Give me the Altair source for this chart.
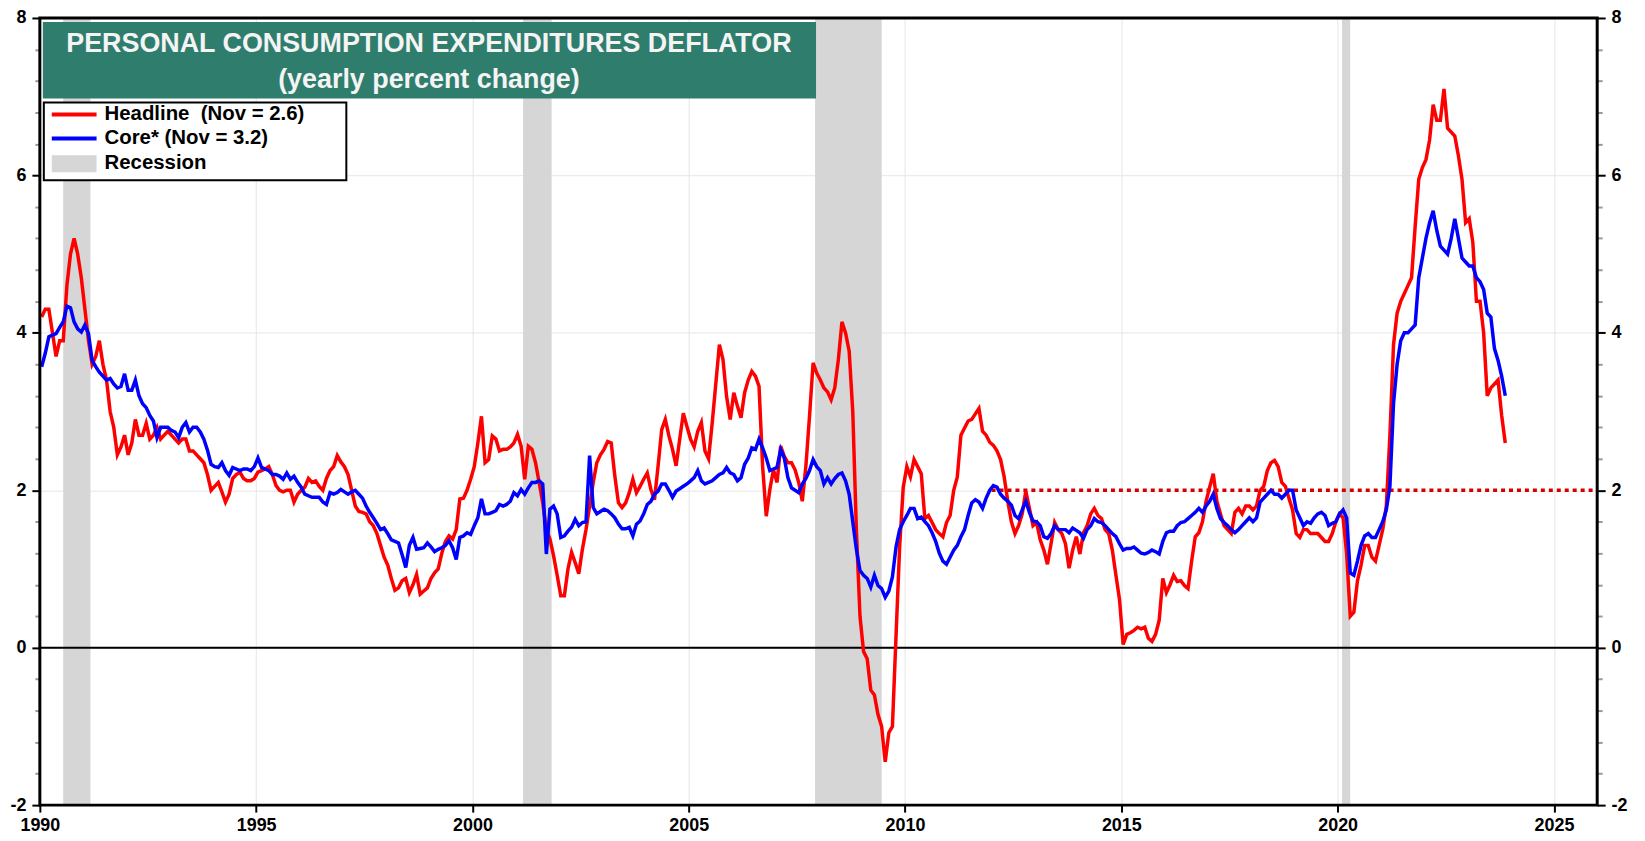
import altair as alt
import pandas as pd

# ---------------- data (yearly % change, monthly, Jan 1990 - Nov 2023) ----------------
headline_1990s = [
    [4.2, 4.3, 4.3, 4.0, 3.7, 3.9, 3.9, 4.6, 5.0, 5.2, 5.0, 4.7],
    [4.3, 3.9, 3.6, 3.7, 3.9, 3.6, 3.4, 3.0, 2.8, 2.45, 2.55, 2.7],
    [2.45, 2.6, 2.9, 2.7, 2.7, 2.85, 2.65, 2.7, 2.8, 2.65, 2.7, 2.75],
    [2.7, 2.65, 2.6, 2.65, 2.65, 2.5, 2.5, 2.45, 2.4, 2.35, 2.2, 2.0],
    [2.05, 2.1, 1.98, 1.85, 1.95, 2.15, 2.2, 2.23, 2.15, 2.12, 2.12, 2.15],
    [2.23, 2.25, 2.27, 2.3, 2.2, 2.06, 2.0, 1.98, 2.0, 2.0, 1.85, 1.95],
    [2.0, 2.04, 2.15, 2.1, 2.12, 2.05, 2.0, 2.15, 2.25, 2.3, 2.44, 2.36],
    [2.3, 2.2, 2.0, 1.8, 1.73, 1.72, 1.7, 1.6, 1.55, 1.45, 1.3, 1.15],
    [1.05, 0.88, 0.73, 0.76, 0.85, 0.88, 0.7, 0.8, 0.93, 0.68, 0.72, 0.76],
    [0.88, 0.95, 1.0, 1.2, 1.35, 1.42, 1.38, 1.5, 1.89, 1.9, 2.0, 2.14],
]
headline_2000s = [
    [2.3, 2.6, 2.94, 2.35, 2.39, 2.69, 2.65, 2.5, 2.52, 2.52, 2.55, 2.6],
    [2.71, 2.56, 2.14, 2.56, 2.52, 2.35, 2.1, 1.84, 1.5, 1.38, 1.17, 0.92],
    [0.66, 0.66, 1.0, 1.21, 1.08, 0.94, 1.25, 1.5, 1.8, 2.1, 2.35, 2.45],
    [2.52, 2.62, 2.6, 2.18, 1.84, 1.78, 1.84, 1.97, 2.14, 1.97, 2.05, 2.14],
    [2.22, 2.01, 1.88, 2.31, 2.77, 2.9, 2.69, 2.52, 2.31, 2.65, 2.98, 2.81],
    [2.65, 2.55, 2.75, 2.86, 2.5, 2.4, 2.85, 3.35, 3.85, 3.66, 3.19, 2.9],
    [3.24, 3.07, 2.92, 3.24, 3.4, 3.51, 3.45, 3.32, 2.3, 1.67, 2.01, 2.26],
    [2.1, 2.56, 2.43, 2.35, 2.35, 2.26, 2.1, 1.86, 2.31, 2.94, 3.62, 3.49],
    [3.4, 3.3, 3.25, 3.15, 3.3, 3.66, 4.14, 4.0, 3.77, 3.0, 1.5, 0.4],
    [-0.05, -0.14, -0.54, -0.6, -0.85, -1.0, -1.45, -1.08, -1.0, 0.15, 1.28, 2.04],
]
headline_2010s = [
    [2.3, 2.17, 2.39, 2.3, 2.21, 1.64, 1.68, 1.59, 1.5, 1.45, 1.41, 1.59],
    [1.68, 2.0, 2.17, 2.7, 2.79, 2.88, 2.9, 2.97, 3.04, 2.75, 2.7, 2.61],
    [2.57, 2.5, 2.39, 2.17, 1.86, 1.6, 1.45, 1.55, 1.7, 1.99, 1.77, 1.55],
    [1.59, 1.37, 1.24, 1.06, 1.32, 1.59, 1.5, 1.45, 1.32, 1.01, 1.24, 1.41],
    [1.19, 1.46, 1.55, 1.7, 1.77, 1.68, 1.64, 1.5, 1.45, 1.24, 0.92, 0.61],
    [0.04, 0.17, 0.19, 0.22, 0.26, 0.24, 0.26, 0.12, 0.08, 0.17, 0.35, 0.88],
    [0.7, 0.8, 0.92, 0.84, 0.85, 0.79, 0.75, 1.1, 1.41, 1.46, 1.6, 1.86],
    [2.04, 2.21, 1.86, 1.7, 1.55, 1.5, 1.45, 1.72, 1.77, 1.7, 1.8, 1.8],
    [1.75, 1.8, 2.0, 2.05, 2.25, 2.35, 2.38, 2.3, 2.1, 2.05, 1.9, 1.75],
    [1.45, 1.4, 1.5, 1.5, 1.45, 1.45, 1.45, 1.4, 1.35, 1.35, 1.45, 1.6],
]
headline_2020s = [
    [1.7, 1.65, 1.2, 0.4, 0.45, 0.85, 1.05, 1.3, 1.3, 1.15, 1.1, 1.3],
    [1.5, 1.8, 2.7, 3.85, 4.25, 4.4, 4.5, 4.6, 4.7, 5.35, 5.95, 6.1],
    [6.2, 6.45, 6.9, 6.7, 6.7, 7.1, 6.6, 6.55, 6.5, 6.25, 5.95, 5.4],
    [5.45, 5.15, 4.4, 4.4, 4.0, 3.2, 3.3, 3.35, 3.4, 2.95, 2.6],
]

core_1990s = [
    [3.57, 3.74, 3.95, 3.97, 3.99, 4.07, 4.14, 4.34, 4.32, 4.14, 4.05, 4.01],
    [4.1, 3.99, 3.65, 3.57, 3.5, 3.45, 3.4, 3.42, 3.35, 3.3, 3.32, 3.48],
    [3.27, 3.27, 3.4, 3.2, 3.1, 3.05, 2.95, 2.88, 2.67, 2.8, 2.8, 2.8],
    [2.76, 2.74, 2.67, 2.8, 2.86, 2.74, 2.8, 2.8, 2.74, 2.65, 2.51, 2.33],
    [2.3, 2.29, 2.35, 2.25, 2.19, 2.29, 2.27, 2.25, 2.27, 2.27, 2.25, 2.3],
    [2.41, 2.29, 2.27, 2.25, 2.2, 2.2, 2.18, 2.14, 2.22, 2.14, 2.18, 2.1],
    [2.04, 1.95, 1.93, 1.91, 1.91, 1.91, 1.85, 1.82, 1.97, 1.95, 1.97, 2.01],
    [1.98, 1.95, 1.98, 2.0, 1.95, 1.9, 1.8, 1.72, 1.65, 1.58, 1.5, 1.52],
    [1.45, 1.37, 1.35, 1.33, 1.18, 1.02, 1.3, 1.4, 1.25, 1.26, 1.27, 1.33],
    [1.28, 1.22, 1.25, 1.27, 1.3, 1.36, 1.27, 1.12, 1.4, 1.42, 1.46, 1.44],
]
core_2000s = [
    [1.55, 1.65, 1.89, 1.7, 1.7, 1.72, 1.74, 1.82, 1.8, 1.82, 1.86, 1.97],
    [1.93, 2.01, 1.95, 2.03, 2.1, 2.1, 2.12, 2.08, 1.19, 1.76, 1.8, 1.7],
    [1.4, 1.42, 1.48, 1.53, 1.63, 1.55, 1.59, 1.6, 2.44, 1.78, 1.7, 1.73],
    [1.76, 1.74, 1.7, 1.65, 1.57, 1.51, 1.51, 1.53, 1.42, 1.57, 1.61, 1.7],
    [1.82, 1.86, 1.95, 1.99, 2.08, 2.08, 2.0, 1.91, 1.99, 2.02, 2.05, 2.08],
    [2.12, 2.16, 2.25, 2.12, 2.08, 2.1, 2.12, 2.16, 2.2, 2.22, 2.29, 2.22],
    [2.2, 2.12, 2.16, 2.33, 2.41, 2.54, 2.52, 2.65, 2.54, 2.41, 2.25, 2.27],
    [2.29, 2.52, 2.41, 2.16, 2.03, 2.0, 1.97, 2.08, 2.15, 2.25, 2.39, 2.3],
    [2.25, 2.08, 2.16, 2.08, 2.15, 2.2, 2.22, 2.12, 1.95, 1.6, 1.25, 0.98],
    [0.92, 0.88, 0.77, 0.92, 0.79, 0.75, 0.64, 0.72, 0.9, 1.28, 1.5, 1.6],
]
core_2010s = [
    [1.68, 1.77, 1.77, 1.64, 1.66, 1.6, 1.55, 1.46, 1.35, 1.2, 1.1, 1.06],
    [1.15, 1.24, 1.3, 1.41, 1.5, 1.68, 1.84, 1.88, 1.85, 1.77, 1.9, 2.0],
    [2.06, 2.04, 1.95, 1.9, 1.86, 1.81, 1.68, 1.64, 1.75, 1.86, 1.72, 1.61],
    [1.6, 1.55, 1.41, 1.39, 1.45, 1.55, 1.5, 1.5, 1.5, 1.46, 1.52, 1.49],
    [1.46, 1.39, 1.5, 1.55, 1.64, 1.6, 1.59, 1.55, 1.5, 1.45, 1.41, 1.32],
    [1.24, 1.26, 1.26, 1.28, 1.24, 1.2, 1.19, 1.21, 1.24, 1.22, 1.19, 1.35],
    [1.46, 1.48, 1.48, 1.55, 1.59, 1.6, 1.64, 1.68, 1.72, 1.77, 1.72, 1.8],
    [1.86, 1.95, 1.77, 1.64, 1.59, 1.55, 1.5, 1.46, 1.5, 1.55, 1.6, 1.65],
    [1.6, 1.65, 1.85, 1.9, 1.95, 2.0, 1.95, 1.95, 1.9, 1.95, 2.0, 2.0],
    [1.75, 1.65, 1.55, 1.6, 1.58, 1.65, 1.7, 1.72, 1.68, 1.55, 1.58, 1.6],
]
core_2020s = [
    [1.7, 1.75, 1.65, 0.95, 0.92, 1.1, 1.3, 1.42, 1.45, 1.4, 1.4, 1.5],
    [1.6, 1.75, 2.05, 3.1, 3.6, 3.9, 4.0, 4.0, 4.05, 4.1, 4.7, 4.95],
    [5.2, 5.4, 5.55, 5.3, 5.1, 5.05, 5.0, 5.2, 5.45, 5.2, 4.95, 4.9],
    [4.85, 4.85, 4.7, 4.65, 4.55, 4.25, 4.2, 3.8, 3.65, 3.45, 3.2],
]

recession_start = [1990.54, 2001.17, 2007.92, 2020.1]
recession_end = [1991.17, 2001.83, 2009.46, 2020.29]
target_value = 2.0
target_start, target_end = 2012.0, 2026.0
x_ticks = [1990, 1995, 2000, 2005, 2010, 2015, 2020, 2025]
y_ticks = [round(-2 + 0.4 * i, 1) for i in range(26)]

title_line1 = "PERSONAL CONSUMPTION EXPENDITURES DEFLATOR"
title_line2 = "(yearly percent change)"
legend_labels = ["Headline\u00a0 (Nov = 2.6)", "Core* (Nov = 3.2)", "Recession"]

# ---------------- build tables ----------------
def to_frame(blocks, start_year, name):
    rows = []
    for yi, vals in enumerate(blocks):
        for mi, v in enumerate(vals):
            rows.append({"t": start_year + yi + (mi + 0.5) / 12.0, "value": v, "series": name})
    return rows

head_rows = (to_frame(headline_1990s, 1990, "Headline") + to_frame(headline_2000s, 2000, "Headline")
             + to_frame(headline_2010s, 2010, "Headline") + to_frame(headline_2020s, 2020, "Headline"))
core_rows = (to_frame(core_1990s, 1990, "Core") + to_frame(core_2000s, 2000, "Core")
             + to_frame(core_2010s, 2010, "Core") + to_frame(core_2020s, 2020, "Core"))
head_df = pd.DataFrame(head_rows)
core_df = pd.DataFrame(core_rows)
rec_df = pd.DataFrame({"start": recession_start, "end": recession_end})
target_df = pd.DataFrame({"x1": [target_start], "x2": [target_end], "y": [target_value]})
zero_df = pd.DataFrame({"y": [0.0]})
one = pd.DataFrame({"a": [0]})

W, H = 1565, 791
FONT = "Liberation Sans"

xs = alt.Scale(domain=[1990, 2026], nice=False, zero=False)
ys = alt.Scale(domain=[-2, 8], nice=False, zero=False)

MAJ = "abs(datum.value - 2*round(datum.value/2)) < 0.01"

def y_axis(orient, grid):
    return alt.Axis(
        orient=orient, values=y_ticks, title=None, domain=False,
        labelExpr=f"({MAJ}) ? toString(round(datum.value)) : ''",
        tickSize={"condition": {"test": MAJ, "value": 8}, "value": 5},
        tickColor={"condition": {"test": MAJ, "value": "#000000"}, "value": "#9a9a9a"},
        tickWidth=2,
        grid=grid, gridColor="#e6e6e6", gridWidth=1,
        gridOpacity={"condition": {"test": MAJ, "value": 1}, "value": 0},
        labelPadding=6, labelFont=FONT, labelFontWeight="bold", labelFontSize=18,
        labelColor="#000000",
    )

x_axis = alt.Axis(values=x_ticks, format="d", title=None, domain=False, tickSize=7,
                  tickWidth=2, tickColor="#000000", grid=True, gridColor="#e6e6e6",
                  labelPadding=5, labelFont=FONT, labelFontWeight="bold", labelFontSize=18,
                  labelColor="#000000", labelFlush=False)

rec = alt.Chart(rec_df).mark_rect(color="#d6d6d6").encode(
    x=alt.X("start:Q", scale=xs, axis=x_axis), x2="end:Q",
    y=alt.value(0), y2=alt.value(H))

zero = alt.Chart(zero_df).mark_rule(color="#000000", strokeWidth=2).encode(
    y=alt.Y("y:Q", scale=ys, axis=None))

target = alt.Chart(target_df).mark_rule(color="#d40000", strokeWidth=3.5, strokeDash=[4, 4]).encode(
    x=alt.X("x1:Q", scale=xs, axis=x_axis), x2="x2:Q",
    y=alt.Y("y:Q", scale=ys, axis=None))

red = alt.Chart(head_df).mark_line(color="#ff0000", strokeWidth=3.5).encode(
    x=alt.X("t:Q", scale=xs, axis=x_axis),
    y=alt.Y("value:Q", scale=ys, axis=y_axis("left", True)))

blue = alt.Chart(core_df).mark_line(color="#0000ff", strokeWidth=3.5).encode(
    x=alt.X("t:Q", scale=xs, axis=x_axis),
    y=alt.Y("value:Q", scale=ys, axis=y_axis("right", False)))

# title box
tbox = alt.Chart(one).mark_rect(color="#2f7d6d").encode(
    x=alt.value(3), x2=alt.value(780), y=alt.value(4), y2=alt.value(81))
t1 = alt.Chart(one).mark_text(font=FONT, fontSize=27, fontWeight="bold", color="#f4f4f4",
                              align="center", baseline="middle").encode(
    x=alt.value(391), y=alt.value(26), text=alt.value(title_line1))
t2 = alt.Chart(one).mark_text(font=FONT, fontSize=27, fontWeight="bold", color="#f4f4f4",
                              align="center", baseline="middle").encode(
    x=alt.value(391), y=alt.value(62), text=alt.value(title_line2))

# legend
lbox = alt.Chart(one).mark_rect(fill="#ffffff", stroke="#000000", strokeWidth=2).encode(
    x=alt.value(4), x2=alt.value(308), y=alt.value(85), y2=alt.value(163))
lred = alt.Chart(one).mark_rule(color="#ff0000", strokeWidth=4).encode(
    x=alt.value(12), x2=alt.value(57), y=alt.value(97))
lblue = alt.Chart(one).mark_rule(color="#0000ff", strokeWidth=4).encode(
    x=alt.value(12), x2=alt.value(57), y=alt.value(121))
lrec = alt.Chart(one).mark_rect(color="#d6d6d6").encode(
    x=alt.value(12), x2=alt.value(57), y=alt.value(138), y2=alt.value(155))
ltexts = [
    alt.Chart(one).mark_text(font=FONT, fontSize=20.5, fontWeight="bold", color="#000000",
                             align="left", baseline="middle").encode(
        x=alt.value(65), y=alt.value(yy), text=alt.value(lab))
    for lab, yy in zip(legend_labels, [97, 121, 146])
]

border = alt.Chart(one).mark_rect(fill=None, stroke="#000000", strokeWidth=3).encode(
    x=alt.value(0), x2=alt.value(W), y=alt.value(0), y2=alt.value(H))

chart = alt.layer(
    rec, zero, target, red, blue, tbox, t1, t2, lbox, lred, lblue, lrec, *ltexts, border
).resolve_axis(y="independent").properties(
    width=W, height=H,
    autosize=alt.AutoSizeParams(type="none"),
    padding={"left": 32, "top": 8, "right": 40, "bottom": 30},
    background="#ffffff",
).configure_view(stroke=None)

chart.save("out.html", embed_options={"renderer": "svg", "actions": False})
